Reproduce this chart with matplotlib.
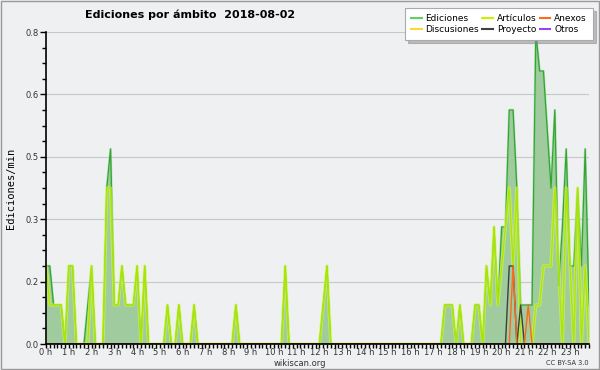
import numpy as np
import matplotlib.pyplot as plt
from matplotlib.ticker import MultipleLocator, FixedLocator

# ----------------(data: edits/min per 10 minute slot, one row per hour)----------------
ediciones = [
    0.2, 0.2, 0.1, 0.1, 0.1, 0.0,
    0.2, 0.2, 0.0, 0.0, 0.0, 0.1,
    0.2, 0.0, 0.0, 0.0, 0.4, 0.5,
    0.1, 0.1, 0.2, 0.1, 0.1, 0.1,
    0.2, 0.0, 0.2, 0.0, 0.0, 0.0,
    0.0, 0.0, 0.1, 0.0, 0.0, 0.1,
    0.0, 0.0, 0.0, 0.1, 0.0, 0.0,
    0.0, 0.0, 0.0, 0.0, 0.0, 0.0,
    0.0, 0.0, 0.1, 0.0, 0.0, 0.0,
    0.0, 0.0, 0.0, 0.0, 0.0, 0.0,
    0.0, 0.0, 0.0, 0.2, 0.0, 0.0,
    0.0, 0.0, 0.0, 0.0, 0.0, 0.0,
    0.0, 0.1, 0.2, 0.0, 0.0, 0.0,
    0.0, 0.0, 0.0, 0.0, 0.0, 0.0,
    0.0, 0.0, 0.0, 0.0, 0.0, 0.0,
    0.0, 0.0, 0.0, 0.0, 0.0, 0.0,
    0.0, 0.0, 0.0, 0.0, 0.0, 0.0,
    0.0, 0.0, 0.0, 0.1, 0.1, 0.1,
    0.0, 0.1, 0.0, 0.0, 0.0, 0.1,
    0.1, 0.0, 0.2, 0.1, 0.3, 0.1,
    0.3, 0.3, 0.6, 0.6, 0.4, 0.1,
    0.1, 0.1, 0.1, 0.8, 0.7, 0.7,
    0.55, 0.4, 0.6, 0.15, 0.3, 0.5,
    0.2, 0.2, 0.4, 0.2, 0.5, 0.1,
]
articulos = [
    0.2, 0.1, 0.1, 0.1, 0.1, 0.0,
    0.2, 0.2, 0.0, 0.0, 0.0, 0.0,
    0.2, 0.0, 0.0, 0.0, 0.4, 0.4,
    0.1, 0.1, 0.2, 0.1, 0.1, 0.1,
    0.2, 0.0, 0.2, 0.0, 0.0, 0.0,
    0.0, 0.0, 0.1, 0.0, 0.0, 0.1,
    0.0, 0.0, 0.0, 0.1, 0.0, 0.0,
    0.0, 0.0, 0.0, 0.0, 0.0, 0.0,
    0.0, 0.0, 0.1, 0.0, 0.0, 0.0,
    0.0, 0.0, 0.0, 0.0, 0.0, 0.0,
    0.0, 0.0, 0.0, 0.2, 0.0, 0.0,
    0.0, 0.0, 0.0, 0.0, 0.0, 0.0,
    0.0, 0.1, 0.2, 0.0, 0.0, 0.0,
    0.0, 0.0, 0.0, 0.0, 0.0, 0.0,
    0.0, 0.0, 0.0, 0.0, 0.0, 0.0,
    0.0, 0.0, 0.0, 0.0, 0.0, 0.0,
    0.0, 0.0, 0.0, 0.0, 0.0, 0.0,
    0.0, 0.0, 0.0, 0.1, 0.1, 0.1,
    0.0, 0.1, 0.0, 0.0, 0.0, 0.1,
    0.1, 0.0, 0.2, 0.1, 0.3, 0.1,
    0.2, 0.3, 0.4, 0.2, 0.4, 0.0,
    0.0, 0.0, 0.0, 0.1, 0.1, 0.2,
    0.2, 0.2, 0.4, 0.2, 0.0, 0.4,
    0.2, 0.0, 0.4, 0.0, 0.2, 0.0,
]
# only non-zero slots (slot index -> value), rest is 0
anexos_pts = {123: 0.2, 127: 0.1}
proyecto_pts = {122: 0.2, 123: 0.2, 125: 0.1}
discusiones_pts = {}
otros_pts = {}

n_slots = len(ediciones)
hours = np.arange(n_slots) / 6.0

def from_pts(pts):
    arr = np.zeros(n_slots)
    for k, v in pts.items():
        arr[k] = v
    return arr

anexos = from_pts(anexos_pts)
proyecto = from_pts(proyecto_pts)
discusiones = from_pts(discusiones_pts)
otros = from_pts(otros_pts)

colours = {"edic": '#33a533', "edic_fill": '#9fcb9f', "art": '#aae600',
           "anex": '#ff6a1a', "disc": '#ffd633', "proy": '#404040', "otros": '#9944ee'}

bg = '#eff0f2'

# ----------------(figure)----------------
fig = plt.figure(figsize=(6, 3.7), dpi=100, facecolor=bg)
ax = fig.add_axes([46/600, 1-344/370, 543/600, 312/370])
ax.set_facecolor(bg)

ax.fill_between(hours, ediciones, color=colours["edic_fill"], lw=0, zorder=1)
ax.plot(hours, ediciones, color='#7fd07f', lw=1.8, alpha=0.45, zorder=2)
ax.plot(hours, ediciones, color=colours["edic"], lw=0.9, zorder=2)
ax.plot(hours, articulos, color='#ddff44', lw=2.4, alpha=0.55, zorder=2)
ax.plot(hours, articulos, color=colours["art"], lw=0.9, zorder=2)
ax.plot(hours, discusiones, color=colours["disc"], lw=1.0, zorder=2)
ax.plot(hours, proyecto, color=colours["proy"], lw=1.0, zorder=2)
ax.plot(hours, anexos, color=colours["anex"], lw=1.0, zorder=2)
ax.plot(hours, otros, color=colours["otros"], lw=1.0, zorder=2)

# legend proxies
ax.plot([], [], color='#66cc66', label='Ediciones')
ax.plot([], [], color=colours["disc"], label='Discusiones')
ax.plot([], [], color='#ccf000', label='Artículos')
ax.plot([], [], color=colours["proy"], label='Proyecto')
ax.plot([], [], color=colours["anex"], label='Anexos')
ax.plot([], [], color=colours["otros"], label='Otros')

ax.set_xlim(0, hours[-1])
ax.set_ylim(0, 0.8)

yt = np.linspace(0, 0.8, 6)
ax.yaxis.set_major_locator(FixedLocator(yt))
ax.set_yticklabels(['%.1f' % v for v in yt])
ax.yaxis.set_minor_locator(MultipleLocator(0.04))
ax.xaxis.set_major_locator(FixedLocator(range(24)))
ax.set_xticklabels(['%d h' % h for h in range(24)])
ax.xaxis.set_minor_locator(MultipleLocator(1/6.0))

ax.tick_params(axis='y', which='major', labelsize=6, length=4, width=1, pad=1, labelcolor='#333333')
ax.tick_params(axis='y', which='minor', length=3, width=1)
ax.tick_params(axis='x', which='major', labelsize=6, length=3, width=1, pad=0, labelcolor='#333333')
ax.tick_params(axis='x', which='minor', length=3, width=1)

ax.grid(axis='y', which='major', color='#c8c8c8', lw=0.8, zorder=0)
ax.set_axisbelow(True)
for s in ['top', 'right']:
    ax.spines[s].set_visible(False)
ax.spines['left'].set_linewidth(1.2)
ax.spines['bottom'].set_linewidth(1.2)

ax.set_ylabel('Ediciones/min', family='DejaVu Sans Mono', fontsize=7.5)
ax.yaxis.set_label_coords(-0.055, 0.5)

fig.text(85/600, 1-15/370, 'Ediciones por ámbito  2018-08-02', fontsize=8,
         fontweight='bold', ha='left', va='center')
fig.text(300/600, 1-363/370, 'wikiscan.org', fontsize=6, ha='center', va='center', color='#333333')
fig.text(589/600, 1-363/370, 'CC BY-SA 3.0', fontsize=4.8, ha='right', va='center', color='#333333')

leg = ax.legend(ncol=3, loc='upper right', bbox_to_anchor=(593/600, 1-8/370),
                bbox_transform=fig.transFigure, fontsize=6.5, frameon=True, fancybox=False,
                shadow={'color': '#888888'}, handlelength=1.2, handletextpad=0.4,
                columnspacing=0.35, labelspacing=0.15, borderpad=0.7, borderaxespad=0)
leg.get_frame().set_edgecolor('#aaaaaa')
leg.get_frame().set_linewidth(0.8)
leg.get_frame().set_facecolor('white')

# outer frame
fig.patches.append(plt.Rectangle((0.001, 0.002), 0.997, 0.996, transform=fig.transFigure,
                                 fill=False, edgecolor='#999999', lw=1))

plt.savefig('out.png', dpi=100, facecolor=bg)
